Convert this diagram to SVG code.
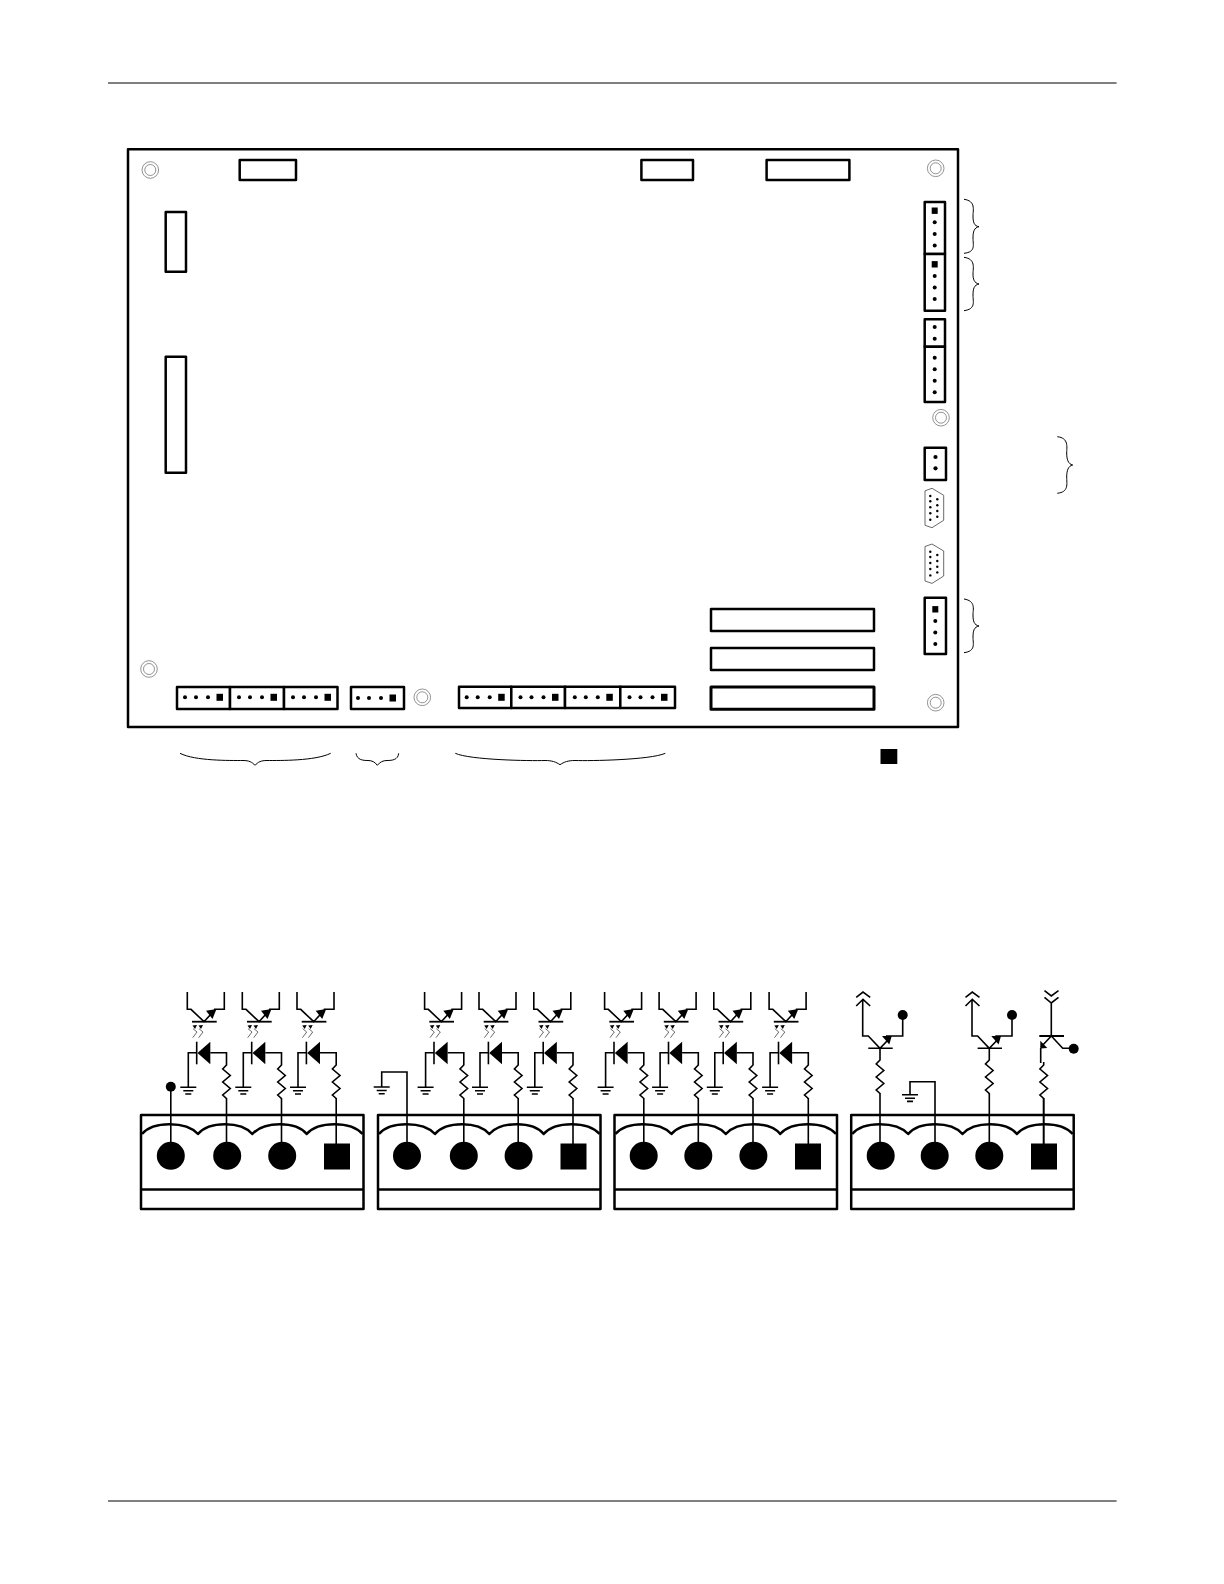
<svg xmlns="http://www.w3.org/2000/svg" xmlns:xlink="http://www.w3.org/1999/xlink" width="1224" height="1584" viewBox="0 0 1224 1584">
<style>
.box{fill:#fff;stroke:#000;stroke-width:2.5;stroke-linejoin:round}
.thick{stroke-width:3}
.hole{fill:none;stroke:#666;stroke-width:.7}
.w{fill:none;stroke:#000;stroke-width:1.6;stroke-linejoin:miter}
.b{fill:#000;stroke:none}
.brace{fill:none;stroke:#000;stroke-width:1}
.thin{fill:none;stroke:#444;stroke-width:.8}
.rule{stroke:#000;stroke-width:1}
</style>
<defs>
<g id="mount"><circle class="hole" r="8.3"/><circle class="hole" r="5.5"/></g>
<g id="gnd"><path class="w" d="M-8 0H8M-5 3.5H5M-3 6.7H3"/></g>
<path id="res" class="w" d="M0 0V3L-3.8 7L3.8 13.5L-3.8 20L3.8 26.5L-3.8 33L0 36.5"/>
<g id="opto">
<path class="w" d="M187.3 992V1009.3H191L204 1021.7L212 1013M224.3 992V1009.3H214"/>
<path class="w" d="M192 1021.7H216.7" style="stroke-width:1.8"/>
<polygon class="b" points="206,1010.7 216.5,1009 212.5,1019"/>
<path class="thin" d="M193 1028.7L197 1032L192.7 1037.7M199 1028.7L203 1032L198.7 1037.7M197 1032L197 1032"/>
<polygon class="b" points="192.5,1025.5 197,1025 195,1029"/>
<polygon class="b" points="198.5,1025.5 203,1025 201,1029"/>
<path class="w" d="M196.7 1041.7V1064.3" style="stroke-width:1.6"/>
<polygon class="b" points="197.5,1053 210.3,1041.7 210.3,1064.3"/>
<path class="w" d="M188.3 1087V1052.7H196.7M210.3 1052.7H226.5V1062"/>
<use href="#gnd" xlink:href="#gnd" x="188.3" y="1087.3"/>
<use href="#res" xlink:href="#res" x="226.5" y="1062"/>
<path class="w" d="M226.5 1098V1145"/>
</g>
<g id="tb">
<rect class="box" x="0" y="0" width="222.5" height="94"/>
<path class="box" d="M0 74.6H222.5" style="fill:none"/>
<path class="box" d="M1 19C12 6 45 6 57 19C68 6 100 6 111.3 19C123 6 155 6 165.7 19C177 6 210 6 221.5 19" style="fill:none"/>
</g>
<g id="db9">
<path class="thin" d="M0 2.5L7 0L18.7 7V32L7 39.4L0 37Z"/>
<g class="b"><circle cx="5.3" cy="7.7" r="1.2"/><circle cx="5.3" cy="13" r="1.2"/><circle cx="5.3" cy="19" r="1.2"/><circle cx="5.3" cy="25" r="1.2"/><circle cx="5.3" cy="31.4" r="1.2"/><circle cx="12.3" cy="11" r="1.2"/><circle cx="12.3" cy="17" r="1.2"/><circle cx="12.3" cy="22.7" r="1.2"/><circle cx="12.3" cy="28.4" r="1.2"/></g>
</g>
<g id="pins-h" class="b"><circle cx="8" cy="0" r="2"/><circle cx="19" cy="0" r="2"/><circle cx="31" cy="0" r="2"/><rect x="39.5" y="-3.5" width="6.5" height="7"/></g>
<g id="pins-v" class="b"><rect x="-3" y="-3.2" width="6" height="6.4"/><circle cx="0" cy="11.6" r="2"/><circle cx="0" cy="23.2" r="2"/><circle cx="0" cy="34.8" r="2"/></g>
</defs>

<g id="page-rules"><path class="rule" d="M108 83H1116.6M108 1501H1116.6"/></g>

<g id="board"><rect class="box" x="128" y="149.3" width="830" height="577.7" style="fill:none"/></g>

<g id="mounting-holes">
<use href="#mount" xlink:href="#mount" x="150.3" y="170"/>
<use href="#mount" xlink:href="#mount" x="935.7" y="168.3"/>
<use href="#mount" xlink:href="#mount" x="941" y="417.7"/>
<use href="#mount" xlink:href="#mount" x="149" y="669"/>
<use href="#mount" xlink:href="#mount" x="422.3" y="697.3"/>
<use href="#mount" xlink:href="#mount" x="935.7" y="702.7"/>
</g>

<g id="top-connectors">
<rect class="box" x="239.7" y="160" width="56.3" height="20"/>
<rect class="box" x="641.4" y="160" width="51.6" height="20"/>
<rect class="box" x="766.6" y="160" width="82.8" height="20"/>
</g>
<g id="left-connectors">
<rect class="box" x="165.7" y="212" width="20.3" height="59.7"/>
<rect class="box" x="165.7" y="356.8" width="20.3" height="115.9"/>
</g>

<g id="right-connector-1">
<rect class="box" x="924.7" y="202" width="20.3" height="52"/>
<use href="#pins-v" xlink:href="#pins-v" x="934.7" y="210.7"/>
</g>
<g id="right-connector-2">
<rect class="box" x="924.7" y="254" width="20.3" height="56.7"/>
<use href="#pins-v" xlink:href="#pins-v" x="934.7" y="264.3"/>
</g>
<g id="right-connector-3">
<rect class="box" x="924.7" y="319.3" width="20.3" height="27.4"/>
<rect class="box" x="924.7" y="346.7" width="20.3" height="55.3"/>
<g class="b"><circle cx="934.7" cy="327" r="2"/><circle cx="934.7" cy="338.7" r="2"/><circle cx="934.7" cy="357.7" r="2"/><circle cx="934.7" cy="369.3" r="2"/><circle cx="934.7" cy="380.7" r="2"/><circle cx="934.7" cy="392.3" r="2"/></g>
</g>
<g id="right-connector-4">
<rect class="box" x="924.7" y="447.7" width="21.3" height="32.3"/>
<g class="b"><circle cx="935.5" cy="457" r="2.1"/><circle cx="935.5" cy="468.3" r="2.1"/></g>
</g>
<g id="db9-1"><use href="#db9" xlink:href="#db9" x="925" y="488.3"/></g>
<g id="db9-2"><use href="#db9" xlink:href="#db9" x="925" y="544"/></g>
<g id="right-connector-5">
<rect class="box" x="924.7" y="597.7" width="21.3" height="56.3"/>
<use href="#pins-v" xlink:href="#pins-v" x="935.3" y="609.3"/>
</g>

<g id="bottom-connectors-a">
<rect class="box" x="177" y="687" width="53" height="22"/>
<rect class="box" x="230" y="687" width="54" height="22"/>
<rect class="box" x="284" y="687" width="53.5" height="22"/>
<use href="#pins-h" xlink:href="#pins-h" x="177" y="697.3"/>
<use href="#pins-h" xlink:href="#pins-h" x="231" y="697.3"/>
<use href="#pins-h" xlink:href="#pins-h" x="285" y="697.3"/>
</g>
<g id="bottom-connector-b">
<rect class="box" x="351" y="687" width="53" height="22"/>
<use href="#pins-h" xlink:href="#pins-h" x="350" y="698"/>
</g>
<g id="bottom-connectors-c">
<rect class="box" x="459" y="686.7" width="52.3" height="21.3"/>
<rect class="box" x="511.3" y="686.7" width="53.7" height="21.3"/>
<rect class="box" x="565" y="686.7" width="55.3" height="21.3"/>
<rect class="box" x="620.3" y="686.7" width="54.7" height="21.3"/>
<use href="#pins-h" xlink:href="#pins-h" x="458.7" y="697.3"/>
<use href="#pins-h" xlink:href="#pins-h" x="512.5" y="697.3"/>
<use href="#pins-h" xlink:href="#pins-h" x="566.8" y="697.3"/>
<use href="#pins-h" xlink:href="#pins-h" x="621.5" y="697.3"/>
</g>
<g id="slots">
<rect class="box" x="711" y="609" width="163" height="22"/>
<rect class="box" x="711" y="648" width="163" height="22"/>
<rect class="box thick" x="711" y="687" width="163" height="22.3"/>
</g>

<g id="braces">
<path class="brace" d="M964 199.3C976 201 973 210 973 216C973 222 974 226 979 226.7C974 227.5 973 232 973 238C973 245 976 252 964 253.3"/>
<path class="brace" d="M964 257.3C976 259 973 268 973 274C973 279 974 283 979 284C974 285 973 289 973 295C973 302 976 309 964 310.7"/>
<path class="brace" d="M1057.3 436.7C1069 438 1066.7 447 1066.7 453C1066.7 459 1068 464 1072.7 465C1068 466 1066.7 471 1066.7 477C1066.7 484 1069 492 1057.3 493.3"/>
<path class="brace" d="M964 599C976 601 973 609 973 615C973 621 974 625 979 626C974 627 973 631 973 637C973 644 976 651 964 652.7"/>
<path class="brace" d="M180 753.3C195 761 230 760.5 243 760.5C249 760.5 252 762 255 765.3C258 762 261 760.5 267 760.5C280 760.5 315 761 330.7 753.3"/>
<path class="brace" d="M356 753.3C357 760 363 760.5 368 760.5C372 760.5 375 762 377.3 765.3C380 762 383 760.5 387 760.5C392 760.5 398 760 398.7 753.3"/>
<path class="brace" d="M455.3 753.3C470 760 530 761 545 760.5C552 760.5 556 762 560 764.7C564 762 568 760.5 575 760.5C590 761 650 760 665.3 753.3"/>
</g>
<g id="legend-square"><rect class="b" x="880.5" y="749" width="16.8" height="15"/></g>

<g id="terminal-1">
<use href="#tb" xlink:href="#tb" x="141" y="1115"/>
<circle class="b" cx="170.8" cy="1155.8" r="14"/><circle class="b" cx="227.2" cy="1155.8" r="14"/><circle class="b" cx="282.2" cy="1155.8" r="14"/><rect class="b" x="324" y="1143.5" width="26" height="26"/>
</g>
<g id="terminal-2">
<use href="#tb" xlink:href="#tb" x="378" y="1115"/>
<circle class="b" cx="407" cy="1155.8" r="14"/><circle class="b" cx="463.8" cy="1155.8" r="14"/><circle class="b" cx="518.6" cy="1155.8" r="14"/><rect class="b" x="560.5" y="1143.5" width="26" height="26"/>
</g>
<g id="terminal-3">
<use href="#tb" xlink:href="#tb" x="614.5" y="1115"/>
<circle class="b" cx="643.7" cy="1155.8" r="14"/><circle class="b" cx="698.3" cy="1155.8" r="14"/><circle class="b" cx="753.4" cy="1155.8" r="14"/><rect class="b" x="795" y="1143.5" width="26" height="26"/>
</g>
<g id="terminal-4">
<use href="#tb" xlink:href="#tb" x="851.2" y="1115"/>
<circle class="b" cx="880.7" cy="1155.8" r="14"/><circle class="b" cx="934.7" cy="1155.8" r="14"/><circle class="b" cx="989.3" cy="1155.8" r="14"/><rect class="b" x="1031" y="1143.5" width="26" height="26"/>
</g>

<g id="connectors">
<g id="wiring-1">
<circle class="b" cx="170.8" cy="1086.7" r="5"/><path class="w" d="M170.8 1086.7V1145"/>
<use href="#opto" xlink:href="#opto"/>
<use href="#opto" xlink:href="#opto" x="55"/>
<use href="#opto" xlink:href="#opto" x="109.7"/>
</g>
<g id="wiring-2">
<use href="#gnd" xlink:href="#gnd" x="381.7" y="1087"/><path class="w" d="M381.7 1087V1072H407V1145"/>
<use href="#opto" xlink:href="#opto" x="237.3"/>
<use href="#opto" xlink:href="#opto" x="291.7"/>
<use href="#opto" xlink:href="#opto" x="346.5"/>
</g>
<g id="wiring-3">
<use href="#opto" xlink:href="#opto" x="417.3"/>
<use href="#opto" xlink:href="#opto" x="471.8"/>
<use href="#opto" xlink:href="#opto" x="526.5"/>
<use href="#opto" xlink:href="#opto" x="581.8"/>
</g>
<g id="wiring-4">
<g id="transistor-a">
<path class="w" d="M862.7 999.3V1036H868.3L880 1048.3L888 1040M886 1036H902.7V1015M856.2 997.3L863 992L870.2 997.3M856.2 1006L863 999.3L870.2 1006M868.3 1048.3H892.7M880 1048.3V1057"/>
<polygon class="b" points="882,1036 891.7,1036 889.3,1044.5"/>
<circle class="b" cx="902.7" cy="1015" r="5"/>
<use href="#res" xlink:href="#res" x="880" y="1057"/><path class="w" d="M880 1093V1145"/>
</g>
<g id="transistor-b">
<path class="w" d="M972 999.3V1036H977.6L989.3 1048.3L997.3 1040M995.3 1036H1012V1015M965.5 997.3L972.3 992L979.5 997.3M965.5 1006L972.3 999.3L979.5 1006M977.6 1048.3H1002M989.3 1048.3V1057"/>
<polygon class="b" points="991.3,1036 1001,1036 998.6,1044.5"/>
<circle class="b" cx="1012" cy="1015" r="5"/>
<use href="#res" xlink:href="#res" x="989.3" y="1057"/><path class="w" d="M989.3 1093V1145"/>
</g>
<g id="transistor-c">
<path class="w" d="M1051.3 1003V1036L1062.7 1048.3H1073.7M1044.5 990.7L1051.3 996L1058.5 990.7M1044.5 997.3L1051.3 1003L1058.5 997.3M1051.3 1036L1041 1047M1040.7 1048V1063"/>
<path class="w" d="M1039.3 1036H1064" style="stroke-width:2"/>
<polygon class="b" points="1040.3,1048.6 1040.3,1040.8 1047.3,1048"/>
<circle class="b" cx="1073.7" cy="1048.7" r="5"/>
<use href="#res" xlink:href="#res" x="1043.7" y="1062"/><path class="w" d="M1043.7 1098V1145" style="stroke-width:2"/>
</g>
<use href="#gnd" xlink:href="#gnd" x="910" y="1094.7"/>
<path class="w" d="M910 1094.7V1081.7H935V1145"/>
</g>
</g>
</svg>
